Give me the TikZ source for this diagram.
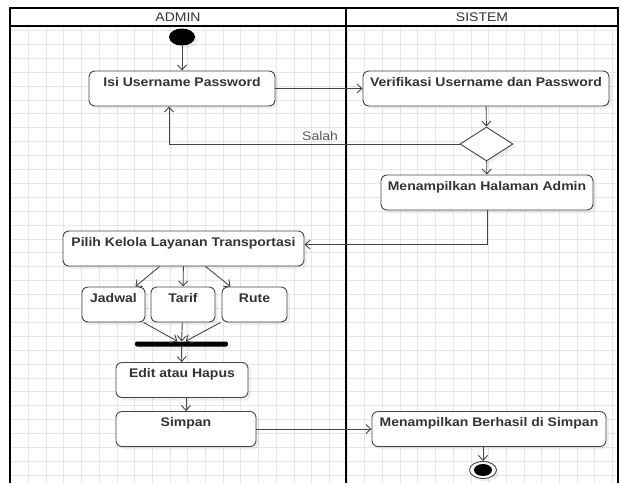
\documentclass[tikz,border=0pt]{standalone}
\usepackage{fontspec}
\setmainfont{Liberation Sans}[FakeStretch=1.12]
\usetikzlibrary{arrows.meta,shapes.geometric,shadows}

\definecolor{garis}{HTML}{444444}
\definecolor{teks}{HTML}{333333}
\definecolor{kisi}{HTML}{E6E6E6}

\tikzset{
  bayang/.style={drop shadow={opacity=0.12, shadow xshift=3pt, shadow yshift=-3pt}},
  aksi/.style={draw=garis, fill=white, rounded corners=6pt, line width=0.9pt,
    inner sep=0pt, text height=15pt, text depth=20pt, text=teks,
    font=\bfseries\fontsize{12.5}{14}\selectfont, bayang},
  alir/.style={draw=garis, line width=0.9pt, -{Straight Barb[length=5pt,width=9pt]}},
  judul/.style={text=teks, font=\fontsize{12.5}{14}\selectfont},
  gridline/.style={kisi, line width=0.5pt},
}

\begin{document}
\begin{tikzpicture}[x=1pt, y=-1pt]
            \useasboundingbox (0,0) rectangle (621,483);
            % kisi-kisi latar
            \foreach \gx in {0,...,34}
                \draw[gridline] ({10.6+17.7*\gx},26) -- ({10.6+17.7*\gx},483);
            \foreach \gy in {2,...,34}
                \draw[gridline] (10,{2.5+13.9*\gy}) -- (618,{2.5+13.9*\gy});

            % swimlane
            \draw[line width=1.3pt] (10,483) -- (10,8) -- (618,8) -- (618,483);
            \draw[line width=1.3pt] (10,26) -- (618,26);
            \draw[line width=1.3pt] (346,8) -- (346,483);
            \node[judul] (admin) at (178,17.5) {ADMIN};
            \node[judul] (sistem) at (482,17.5) {SISTEM};

            % aktivitas
            \node[ellipse, fill=black, minimum width=26pt, minimum height=17pt, inner sep=0pt, bayang] (mulai) at (182,37) {};
            \node[aksi, minimum width=186pt] (isi) at (182,88.5) {Isi Username Password};
            \node[aksi, minimum width=246pt] (verifikasi) at (486,88.5) {Verifikasi Username dan Password};
            \node[diamond, draw=garis, fill=white, line width=0.9pt, minimum width=53pt, minimum height=34pt, inner sep=0pt, bayang] (cek) at (486.5,144) {};
            \node[aksi, minimum width=212pt] (halaman) at (487,192.5) {Menampilkan Halaman Admin};
            \node[aksi, minimum width=241pt] (pilih) at (183.5,248.5) {Pilih Kelola Layanan Transportasi};
            \node[aksi, minimum width=63pt] (jadwal) at (113.5,304.5) {Jadwal};
            \node[aksi, minimum width=64pt] (tarif) at (183,304.5) {Tarif};
            \node[aksi, minimum width=65pt] (rute) at (254.5,304.5) {Rute};
            \node[fill=black, minimum width=93pt, minimum height=5pt, inner sep=0pt, rounded corners=2pt, bayang] (gabung) at (181.5,344) {};
            \node[aksi, minimum width=132pt] (edit) at (182,380) {Edit atau Hapus};
            \node[aksi, minimum width=140pt] (simpan) at (186,429) {Simpan};
            \node[aksi, minimum width=234pt] (berhasil) at (489,429) {Menampilkan Berhasil di Simpan};
            \node[ellipse, draw=garis, fill=white, line width=0.9pt, minimum width=27pt, minimum height=17pt, inner sep=0pt, bayang] (akhir) at (483,470) {};
            \node[ellipse, fill=black, minimum width=18pt, minimum height=12pt, inner sep=0pt] (akhirdot) at (akhir) {};

            % alur
            \draw[alir] (mulai) -- (isi);
            \draw[alir] (isi) -- (verifikasi);
            \draw[alir] (verifikasi) -- (cek);
            \draw[alir] (cek) -| ([xshift=-13pt]isi.south)
                node[pos=0.24, above, judul, text=garis!90] (salah) {Salah};
            \draw[alir] (cek) -- (halaman);
            \draw[alir] (halaman) |- ([yshift=4pt]pilih.east);
            \draw[alir] ([xshift=-24pt]pilih.south) -- ([xshift=22pt]jadwal.north);
            \draw[alir] (pilih) -- (tarif);
            \draw[alir] ([xshift=22pt]pilih.south) -- ([xshift=-24pt]rute.north);
            \draw[alir] ([xshift=30pt]jadwal.south) -- ([xshift=-4pt]gabung.north);
            \draw[alir] (tarif) -- (gabung);
            \draw[alir] ([xshift=-34pt]rute.south) -- ([xshift=4pt]gabung.north);
            \draw[alir] (gabung) -- (edit);
            \draw[alir] (edit.south -| simpan.north) -- (simpan);
            \draw[alir] (simpan) -- (berhasil);
            \draw[alir] (berhasil.south -| akhir.north) -- (akhir);
        \end{tikzpicture}
\end{document}
